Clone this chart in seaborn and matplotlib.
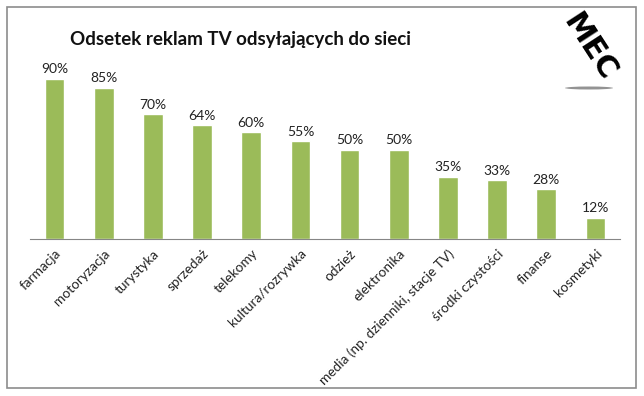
import matplotlib.pyplot as plt
import seaborn as sns
import numpy as np
import pandas as pd
from matplotlib.patches import Rectangle, Ellipse

categories = ["farmacja", "motoryzacja", "turystyka", "sprzedaż", "telekomy",
              "kultura/rozrywka", "odzież", "elektronika",
              "media (np. dzienniki, stacje TV)", "środki czystości",
              "finanse", "kosmetyki"]
values = [90, 85, 70, 64, 60, 55, 50, 50, 35, 33, 28, 12]
title = "Odsetek reklam TV odsyłających do sieci"

sns.set_style("white")
plt.rcParams['font.family'] = ['Lato', 'DejaVu Sans']

df = pd.DataFrame({"kategoria": categories, "odsetek": values})

fig = plt.figure(figsize=(6.44, 3.96), dpi=100)
ax = fig.add_axes([30 / 644, 1 - 239 / 396, 590 / 644, 178 / 396])

sns.barplot(data=df, x="kategoria", y="odsetek", color="#9BBB59",
            saturation=1, width=0.4, ax=ax)

ax.set_ylim(0, 100)
ax.set_xlim(-0.5, len(categories) - 0.5)
ax.set_xlabel("")
ax.set_ylabel("")
ax.set_yticks([])

# podpisy wartości nad słupkami
for i, v in enumerate(values):
    ax.text(i, v + 2, f"{v}%", ha="center", va="bottom", fontsize=10, color="#222222")

# etykiety kategorii + kreski między kategoriami
ax.set_xticks(np.arange(len(categories)))
ax.set_xticklabels(categories, rotation=45, ha="right", rotation_mode="anchor",
                   fontsize=9.8, color="#222222")
ax.tick_params(axis="x", which="major", length=0, pad=6)
ax.set_xticks(np.arange(len(categories) + 1) - 0.5, minor=True)
ax.tick_params(axis="x", which="minor", length=4, color="#868686", width=1)

for side in ["left", "right", "top"]:
    ax.spines[side].set_visible(False)
ax.spines["bottom"].set_color("#868686")

fig.text(241 / 644, 1 - 39 / 396, title, ha="center", va="center",
         fontsize=13.5, fontweight="bold", color="#111111")

# logo MEC
fig.text(589 / 644, 1 - 47 / 396, "MEC", ha="center", va="center",
         fontsize=22, fontweight="heavy", color="black", rotation=-57,
         family="DejaVu Sans")
fig.patches.append(Ellipse((589 / 644, 1 - 88 / 396), 48 / 644, 3 / 396,
                           transform=fig.transFigure, color="#666666",
                           alpha=0.7, lw=0))

# ramka
fig.patches.append(Rectangle((7 / 644, 8 / 396), 629 / 644, 381 / 396,
                             transform=fig.transFigure, fill=False,
                             edgecolor="#8c8c8c", lw=1.2))

plt.savefig("out.png", dpi=100)
